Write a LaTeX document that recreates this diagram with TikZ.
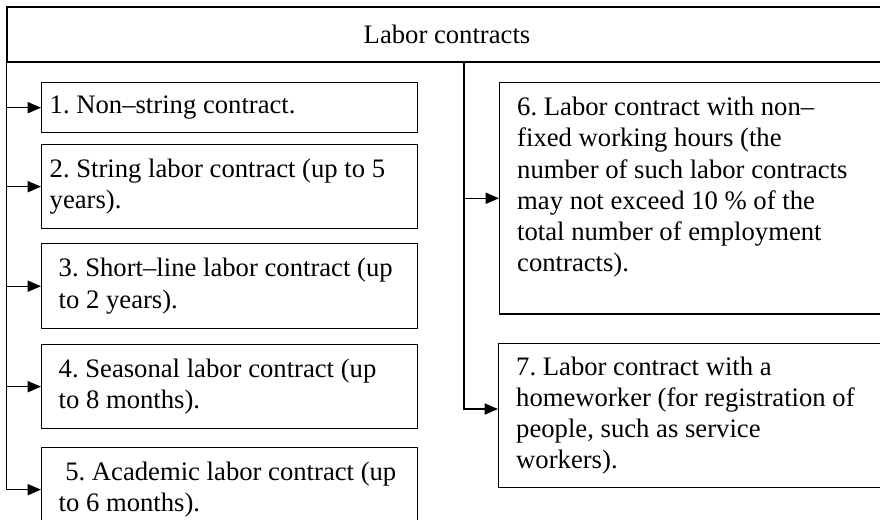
\documentclass[tikz,border=0pt]{standalone}
\usepackage{fontspec}
\setmainfont{Liberation Serif}
\usetikzlibrary{arrows.meta}
\frenchspacing

\begin{document}
\begin{tikzpicture}[x=0.45pt, y=-0.45pt, semithick,
    every node/.style={font=\fontsize{12pt}{14pt}\selectfont},
    >={Triangle[length=6pt, width=5pt]},
    head/.style={draw, minimum width=396pt, minimum height=24.75pt},
    item/.style={draw, anchor=north west, align=flush left},
    narrow/.style={item, text width=162pt, inner xsep=3.6pt},
    wide/.style={item, text width=153.9pt, inner xsep=7.65pt},
    right item/.style={item, text width=160.2pt, inner xsep=7.9pt}]
  % Frame of the drawing
  \useasboundingbox (0,0) rectangle (880,519);
  \clip (0,0) rectangle (880,519);

  % Header
  \node[head] (title) at (447,34.5) {Labor contracts};

  % Left column: items 1--5
  \node[narrow, minimum height=22.5pt] (c1) at (41,82) {1. Non--string contract.};
  \node[narrow, minimum height=37.8pt] (c2) at (41,144) {2. String labor contract (up to 5\\years).};
  \node[wide, minimum height=38.25pt] (c3) at (41,243) {3. Short--line labor contract (up\\to 2 years).};
  \node[wide, minimum height=37.8pt] (c4) at (41,344) {4. Seasonal labor contract (up\\to 8 months).};
  \node[wide, minimum height=37.8pt] (c5) at (41,447) {\hspace*{3pt}5. Academic labor contract (up\\to 6 months).};

  % Right column: items 6 and 7
  \node[right item, inner ysep=6.6pt, text depth=82.5pt] (c6) at (499,82) {6. Labor contract with non--\\fixed working hours (the\\number of such labor contracts\\may not exceed 10 \% of the\\total number of employment\\contracts).};
  \node[right item, minimum height=64.8pt] (c7) at (498,343) {7. Labor contract with a\\homeworker (for registration of\\people, such as service\\workers).};

  % Left trunk, arrows to 1--5
  \draw[->] (title.south west) |- (c5.west);
  \foreach \n in {1,...,4}
    \draw[->] (title.south west |- c\n.west) -- (c\n.west);

  % Right trunk, arrows to 6 and 7
  \coordinate (split) at (464,62);
  \draw[->] (split) |- ([yshift=3pt]c7.west);
  \draw[->] (split |- c6.west) -- (c6.west);
\end{tikzpicture}
\end{document}
